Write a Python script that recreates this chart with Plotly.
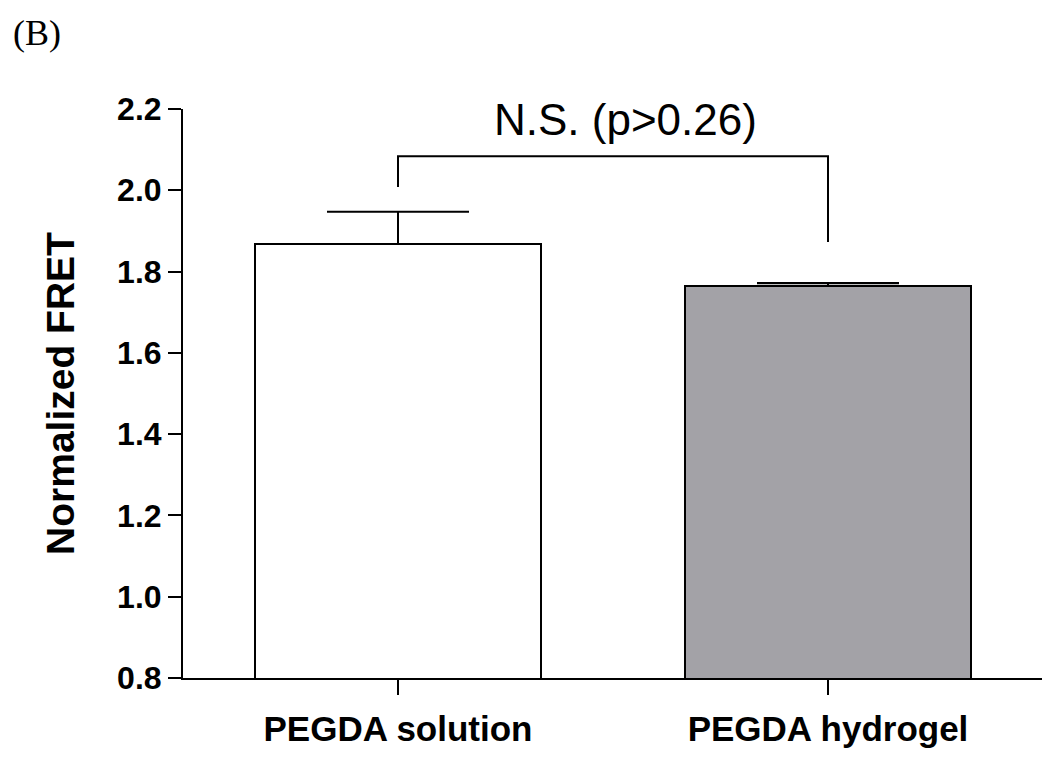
import plotly.graph_objects as go

# datos
groups = ['PEGDA solution', 'PEGDA hydrogel']
fret_mean = [1.868, 1.765]
fret_sem = [0.079, 0.007]
bar_colors = ['#ffffff', '#a3a2a7']

# corchete de significancia (x = indice de grupo, y = FRET)
bracket_x = [0, 0, 1, 1]
bracket_y = [2.008, 2.084, 2.084, 1.873]
sig_label = 'N.S. (p>0.26)'

y_ticks = [0.8, 1.0, 1.2, 1.4, 1.6, 1.8, 2.0, 2.2]

fig = go.Figure()

fig.add_trace(go.Bar(
    x=[0, 1],
    y=fret_mean,
    width=0.663,
    marker=dict(color=bar_colors, line=dict(color='black', width=2)),
    error_y=dict(type='data', symmetric=False, array=fret_sem,
                 arrayminus=[0, 0], color='black', thickness=2, width=71),
    showlegend=False
))

fig.add_trace(go.Scatter(
    x=bracket_x, y=bracket_y,
    mode='lines',
    line=dict(color='black', width=2),
    showlegend=False,
    hoverinfo='skip'
))

# la pagina tiene 8px de margen en body, se compensa aqui
fig.update_layout(
    width=1050, height=759,
    margin=dict(l=175, r=15, t=101, b=89),
    plot_bgcolor='white',
    paper_bgcolor='white',
    bargap=0,
    annotations=[
        dict(text=sig_label, x=0.514, xref='paper', y=2.173, yref='y',
             xanchor='center', yanchor='middle', showarrow=False,
             font=dict(family='Liberation Sans', size=44, color='black')),
        dict(text='(B)', x=-0.2, xref='paper', y=1.172, yref='paper',
             xanchor='left', yanchor='top', showarrow=False,
             font=dict(family='Liberation Serif', size=36, color='black')),
    ]
)

fig.update_xaxes(
    range=[-0.5, 1.5],
    tickmode='array', tickvals=[0, 1], ticktext=groups,
    showline=True, linecolor='black', linewidth=2,
    ticks='outside', ticklen=15, tickwidth=2, tickcolor='black',
    showgrid=False, zeroline=False, automargin=False,
    ticklabelstandoff=4,
    tickfont=dict(family='Liberation Sans', size=35, color='black', weight='bold')
)

fig.update_yaxes(
    range=[0.8, 2.2],
    tickmode='array', tickvals=y_ticks,
    ticktext=[f'{v:.1f}' for v in y_ticks],
    showline=True, linecolor='black', linewidth=2,
    ticks='outside', ticklen=13, tickwidth=2, tickcolor='black',
    showgrid=False, zeroline=False, automargin=False,
    tickfont=dict(family='Liberation Sans', size=32, color='black', weight='bold'),
    title=dict(text='Normalized FRET', standoff=30,
               font=dict(family='Liberation Sans', size=39, color='black', weight='bold'))
)

fig.write_html('out.html')
